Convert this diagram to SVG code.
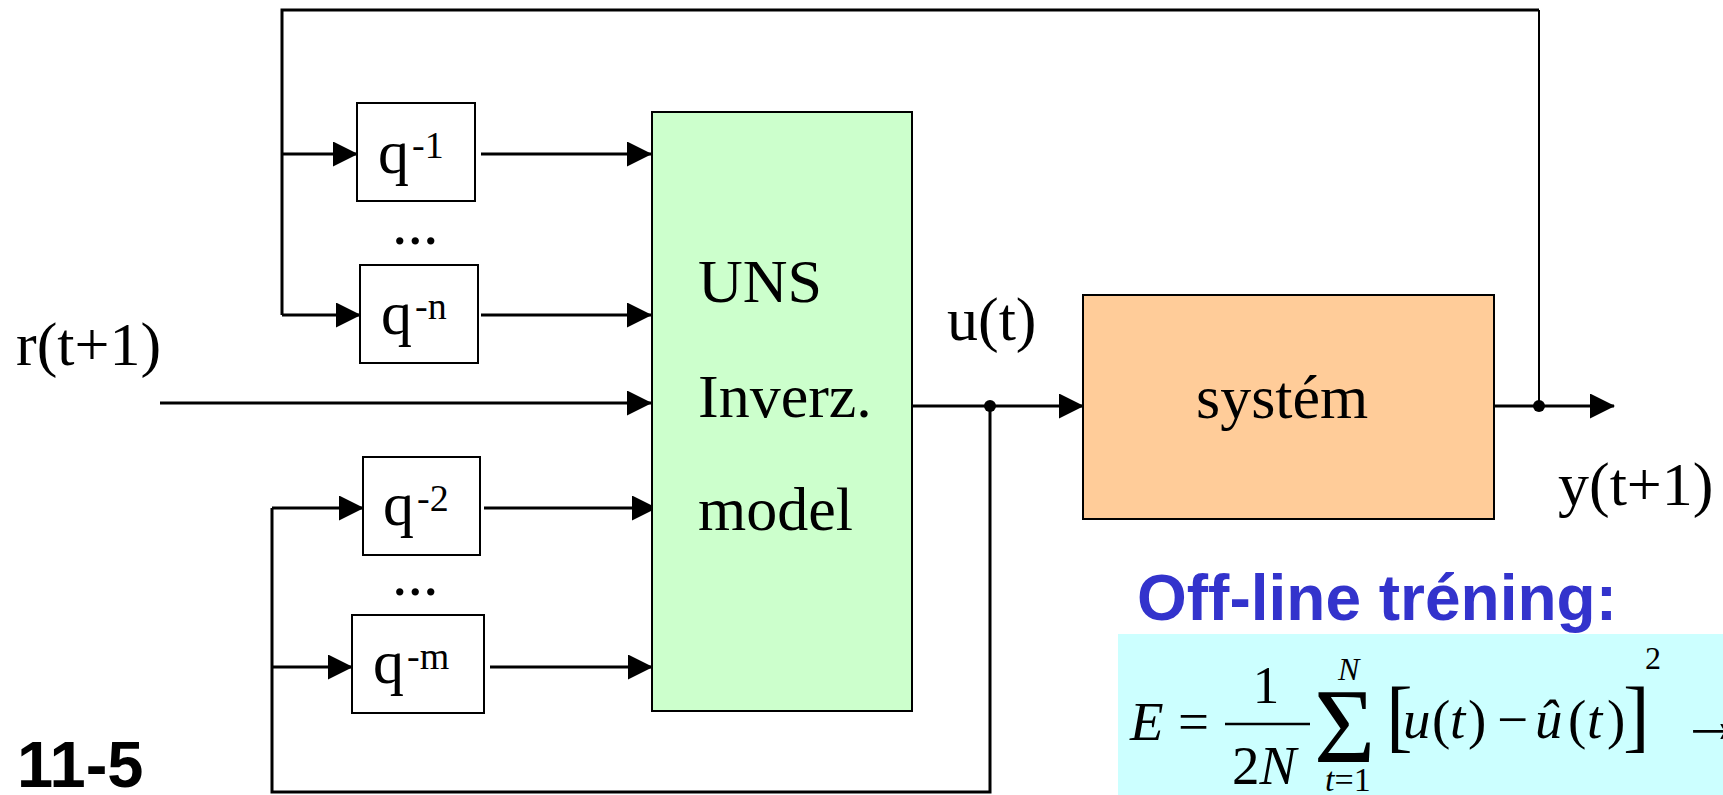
<svg xmlns="http://www.w3.org/2000/svg" width="1723" height="795" viewBox="0 0 1723 795">
<style>
.ser{font-family:"Liberation Serif","Times New Roman",serif;fill:#000}
.lbl{font-size:62px}
.sup{font-size:38px}
.box{fill:#fff;stroke:#000;stroke-width:2}
.ln{fill:none;stroke:#000;stroke-width:3}
.ln2{fill:none;stroke:#000;stroke-width:2}
.it{font-style:italic}
</style>
<defs>
<marker id="ah" markerUnits="userSpaceOnUse" markerWidth="25" markerHeight="25" refX="24" refY="12.5" orient="auto">
<path d="M0,0 L25,12.5 L0,25 z" fill="#000"/>
</marker>
</defs>
<rect x="0" y="0" width="1723" height="795" fill="#fff"/>

<g id="connectors">
<path class="ln" d="M282,315 L282,10 L1539,10"/>
<path class="ln2" d="M1539,10 L1539,406"/>
<path class="ln" d="M282,154 L357,154" marker-end="url(#ah)"/>
<path class="ln" d="M282,315 L360,315" marker-end="url(#ah)"/>
<path class="ln" d="M481,154 L651,154" marker-end="url(#ah)"/>
<path class="ln" d="M481,315 L651,315" marker-end="url(#ah)"/>
<path class="ln" d="M160,403 L651,403" marker-end="url(#ah)"/>
<path class="ln" d="M484,508 L656,508" marker-end="url(#ah)"/>
<path class="ln" d="M490,667 L652,667" marker-end="url(#ah)"/>
<path class="ln" d="M272,508 L272,792 L990,792 L990,406"/>
<path class="ln" d="M272,508 L363,508" marker-end="url(#ah)"/>
<path class="ln" d="M272,667 L352,667" marker-end="url(#ah)"/>
<path class="ln" d="M912,406 L1083,406" marker-end="url(#ah)"/>
<path class="ln" d="M1494,406 L1614,406" marker-end="url(#ah)"/>
<circle cx="990" cy="406" r="6" fill="#000"/>
<circle cx="1539" cy="406" r="6" fill="#000"/>
</g>

<g id="q1">
<rect class="box" x="357" y="103" width="118" height="98"/>
<text class="ser lbl" x="378" y="173">q<tspan class="sup" dx="3" dy="-15">-1</tspan></text>
</g>
<text class="ser lbl" x="392" y="244">...</text>
<g id="qn">
<rect class="box" x="360" y="265" width="118" height="98"/>
<text class="ser lbl" x="381" y="334">q<tspan class="sup" dx="3" dy="-15">-n</tspan></text>
</g>
<g id="q2">
<rect class="box" x="363" y="457" width="117" height="98"/>
<text class="ser lbl" x="383" y="525">q<tspan class="sup" dx="3" dy="-14">-2</tspan></text>
</g>
<text class="ser lbl" x="392" y="595">...</text>
<g id="qm">
<rect class="box" x="352" y="615" width="132" height="98"/>
<text class="ser lbl" x="373" y="683">q<tspan class="sup" dx="3" dy="-14">-m</tspan></text>
</g>

<g id="uns">
<rect x="652" y="112" width="260" height="599" fill="#CCFFCC" stroke="#000" stroke-width="2"/>
<text class="ser lbl" x="698" y="302">UNS</text>
<text class="ser lbl" x="698" y="417">Inverz.</text>
<text class="ser lbl" x="698" y="530">model</text>
</g>

<g id="system">
<rect x="1083" y="295" width="411" height="224" fill="#FFCC99" stroke="#000" stroke-width="2"/>
<text class="ser lbl" x="1196" y="418" font-size="63">systém</text>
</g>

<g id="labels">
<text class="ser lbl" x="16" y="365">r(t+1)</text>
<text class="ser lbl" x="947" y="340">u(t)</text>
<text class="ser lbl" x="1558" y="505" font-size="63">y(t+1)</text>
<text x="17" y="787" style="font-family:'Liberation Sans',Arial,sans-serif;font-weight:bold;font-size:65px;fill:#000">11-5</text>
<text x="1137" y="620" style="font-family:'Liberation Sans',Arial,sans-serif;font-weight:bold;font-size:64px;fill:#3333CC">Off-line tréning:</text>
</g>

<g id="formula">
<rect x="1118" y="634" width="605" height="161" fill="#CCFFFF"/>
<text class="ser it" x="1130" y="740" font-size="55">E</text>
<text class="ser" x="1178" y="740" font-size="55">=</text>
<text class="ser" x="1266" y="703" font-size="53" text-anchor="middle">1</text>
<line x1="1225" y1="724" x2="1310" y2="724" stroke="#000" stroke-width="2.5"/>
<text class="ser" x="1232" y="784" font-size="55">2<tspan class="it">N</tspan></text>
<text class="ser" x="1314" y="762" font-size="105">Σ</text>
<text class="ser it" x="1338" y="680" font-size="32">N</text>
<text class="ser" x="1325" y="791" font-size="34"><tspan class="it">t</tspan>=1</text>
<text class="ser" x="1386" y="742" font-size="80">[</text>
<text class="ser" font-size="55" y="738"><tspan class="it" x="1403">u</tspan><tspan x="1432">(</tspan><tspan class="it" x="1450">t</tspan><tspan x="1468">)</tspan><tspan x="1497">−</tspan><tspan class="it" x="1535">û</tspan><tspan x="1568">(</tspan><tspan class="it" x="1587">t</tspan><tspan x="1607">)</tspan></text>
<text class="ser" x="1623" y="742" font-size="80">]</text>
<text class="ser" x="1645" y="669" font-size="32">2</text>
<text class="ser" x="1680" y="742" font-size="64">→</text>
</g>
</svg>
